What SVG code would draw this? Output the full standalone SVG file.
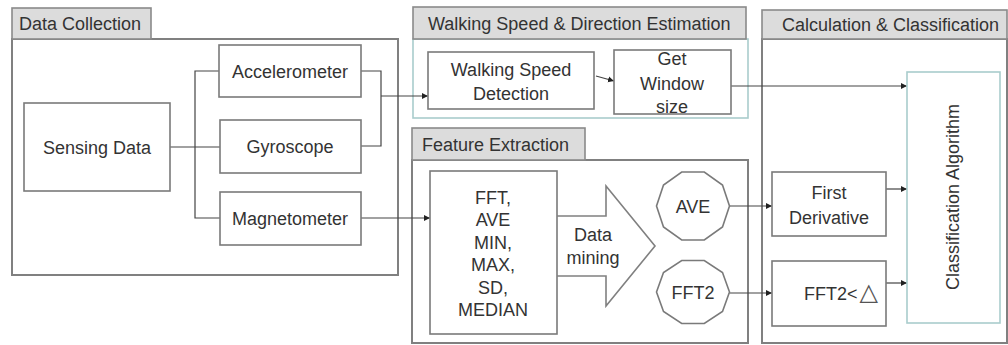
<svg xmlns="http://www.w3.org/2000/svg" width="1008" height="345" viewBox="0 0 1008 345">
<defs>
<marker id="arr" markerUnits="userSpaceOnUse" markerWidth="7" markerHeight="7" refX="6" refY="3.5" orient="auto">
<path d="M0,0.5 L6,3.5 L0,6.5 z" fill="#222"/>
</marker>
</defs>
<style>
text{font-family:"Liberation Sans",Arial,sans-serif;font-size:18px;fill:#333;}
.c{text-anchor:middle;}
.frame{fill:none;stroke:#808080;stroke-width:2;}
.teal{fill:none;stroke:#a9cccc;stroke-width:1.6;}
.tab{fill:#dcdcdc;stroke:#8a8a8a;stroke-width:1.6;}
.box{fill:#fff;stroke:#7a7a7a;stroke-width:1.6;}
.tbox{fill:#fff;stroke:#a9cccc;stroke-width:1.6;}
.conn{fill:none;stroke:#444;stroke-width:1.2;}
.ar{marker-end:url(#arr);}
</style>
<rect width="1008" height="345" fill="#fff"/>

<g id="data-collection">
<rect class="frame" x="12" y="39" width="386" height="236"/>
<rect class="tab" x="12" y="8" width="139" height="31"/>
<text x="19" y="29.5">Data Collection</text>
</g>
<g id="walking-speed-group">
<rect class="teal" x="413" y="39" width="335" height="79"/>
<rect class="tab" x="413" y="7" width="333" height="32"/>
<text x="428" y="29.5">Walking Speed &amp; Direction Estimation</text>
</g>
<g id="feature-extraction">
<rect class="frame" x="412" y="160" width="336" height="183"/>
<rect class="tab" x="412" y="128" width="173" height="32"/>
<text x="422" y="150.5">Feature Extraction</text>
</g>
<g id="calc-classification">
<rect class="frame" x="762" y="39" width="245" height="304"/>
<rect class="tab" x="762" y="10" width="245" height="29"/>
<text x="782" y="31">Calculation &amp; Classification</text>
</g>

<g id="connectors">
<polyline class="conn" points="170,147 220,147"/>
<polyline class="conn" points="219,71 195,71 195,218 220,218"/>
<polyline class="conn" points="361,71 381,71 381,146 361,146"/>
<line class="conn ar" x1="381" y1="96" x2="428" y2="96"/>
<line class="conn ar" x1="361" y1="218" x2="430" y2="218"/>
<line class="conn ar" x1="596" y1="76" x2="614" y2="81"/>
<line class="conn ar" x1="731" y1="86" x2="907" y2="86"/>
<line class="conn ar" x1="729.5" y1="206" x2="772" y2="206"/>
<line class="conn ar" x1="729.5" y1="293" x2="772" y2="293"/>
<line class="conn ar" x1="886" y1="189" x2="907" y2="189"/>
<line class="conn ar" x1="886" y1="283" x2="907" y2="283"/>
</g>

<g id="sensing-data">
<rect class="box" x="24" y="103" width="146" height="88"/>
<text class="c" x="97" y="153.5">Sensing Data</text>
</g>
<g id="accelerometer">
<rect class="box" x="219" y="45" width="142" height="52"/>
<text class="c" x="290" y="77.5">Accelerometer</text>
</g>
<g id="gyroscope">
<rect class="box" x="220" y="120" width="141" height="53"/>
<text class="c" x="290" y="152.5">Gyroscope</text>
</g>
<g id="magnetometer">
<rect class="box" x="220" y="192" width="141" height="53"/>
<text class="c" x="290" y="224.5">Magnetometer</text>
</g>
<g id="walking-speed-detection">
<rect class="box" x="428" y="52" width="166" height="57"/>
<text class="c" x="511" y="75.5">Walking Speed</text>
<text class="c" x="511" y="99.5">Detection</text>
</g>
<g id="get-window-size">
<rect class="box" x="614" y="50" width="117" height="64"/>
<text class="c" x="672" y="64.5">Get</text>
<text class="c" x="672" y="89.5">Window</text>
<text class="c" x="672" y="112.5">size</text>
</g>
<g id="features">
<rect class="box" x="430" y="171" width="127" height="163"/>
<text class="c" x="493" y="203.5">FFT,</text>
<text class="c" x="493" y="226">AVE</text>
<text class="c" x="493" y="248.5">MIN,</text>
<text class="c" x="493" y="271">MAX,</text>
<text class="c" x="493" y="293.5">SD,</text>
<text class="c" x="493" y="316">MEDIAN</text>
</g>
<g id="data-mining">
<polyline fill="none" stroke="#808080" stroke-width="1.6" points="557,216 606,216 606,186 655,246 606,306 606,276 557,276"/>
<text class="c" x="593" y="240.5">Data</text>
<text class="c" x="593" y="263.5">mining</text>
</g>
<g id="ave">
<polygon class="box" points="729.5,206 722.5,185 704.3,172 681.7,172 663.5,185 656.5,206 663.5,227 681.7,240 704.3,240 722.5,227"/>
<text class="c" x="693" y="212.5">AVE</text>
</g>
<g id="fft2">
<polygon class="box" points="729.5,292 722.5,272.5 704.3,260.5 681.7,260.5 663.5,272.5 656.5,292 663.5,311.5 681.7,323.5 704.3,323.5 722.5,311.5"/>
<text class="c" x="693" y="298.5">FFT2</text>
</g>
<g id="first-derivative">
<rect class="box" x="772" y="172" width="114" height="64"/>
<text class="c" x="829" y="198.5">First</text>
<text class="c" x="829" y="223.5">Derivative</text>
</g>
<g id="fft2-threshold">
<rect class="box" x="772" y="261" width="114" height="65"/>
<text x="804" y="300">FFT2&lt;<tspan dx="2" style="font-family:'DejaVu Sans',sans-serif;font-size:24px;fill:#555;">△</tspan></text>
</g>
<g id="classification-algorithm">
<rect class="tbox" x="907" y="72" width="93" height="251"/>
<text class="c" x="953" y="197" transform="rotate(-90 953 197) translate(0 6.3)">Classification Algorithm</text>
</g>
</svg>
